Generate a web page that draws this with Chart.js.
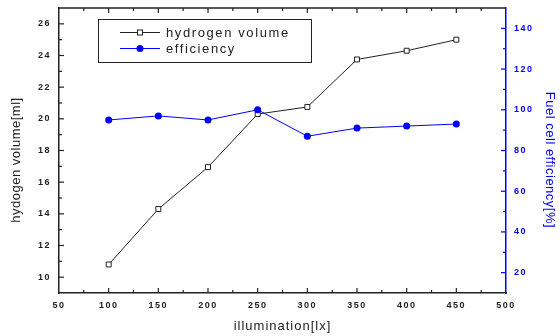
<!DOCTYPE html>
<html>
<head>
<meta charset="utf-8">
<script src="https://cdn.jsdelivr.net/npm/chart.js@4.4.1/dist/chart.umd.min.js"></script>
<style>
  html, body { margin: 0; padding: 0; background: #fff; }
  #wrap { width: 560px; height: 336px; position: relative; }
</style>
</head>
<body>
<div id="wrap"><canvas id="chart_hydrogenEfficiency"></canvas></div>
<script>
// data
var illumination = [100, 150, 200, 250, 300, 350, 400, 450];
var hydrogenVolume = [10.8, 14.3, 16.95, 20.3, 20.75, 23.75, 24.3, 25.0];
var efficiency = [95, 97, 95, 100, 87, 91, 92, 93];

var xTicks = [50, 100, 150, 200, 250, 300, 350, 400, 450, 500];
var xMinorTicks = [75, 125, 175, 225, 275, 325, 375, 425, 475];
var volumeTicks = [10, 12, 14, 16, 18, 20, 22, 24, 26];
var volumeMinorTicks = [11, 13, 15, 17, 19, 21, 23, 25];
var effTicks = [20, 40, 60, 80, 100, 120, 140];
var effMinorTicks = [30, 50, 70, 90, 110, 130];

var labelHydrogen = 'hydrogen volume';
var labelEfficiency = 'efficiency';
var titleX = 'illumination[lx]';
var titleY = 'hydogen volume[ml]';
var titleY2 = 'Fuel cell efficiency[%]';

var BLUE = '#0000ff';
var INK = '#222222';
var FONT = '"Liberation Sans", Arial, sans-serif';

function fixTicks(list) {
    return function(scale) {
        scale.ticks = list.map(function(v) { return { value: v }; });
    };
}

// fixed axis thickness, no extra overhang padding
function fitWidth(w) {
    return function(scale) {
        scale.width = w;
        scale.paddingTop = 0;
        scale.paddingBottom = 0;
    };
}

function drawSquare(ctx, x, y, s) {
    ctx.fillStyle = '#fff';
    ctx.strokeStyle = INK;
    ctx.lineWidth = 1;
    ctx.fillRect(x - s / 2, y - s / 2, s, s);
    ctx.strokeRect(x - s / 2, y - s / 2, s, s);
}

var framePlugin = {
    id: 'framePlugin',
    beforeDraw: function(chart) {
        chart.ctx.letterSpacing = '1.5px';
    },
    afterDraw: function(chart) {
        var ctx = chart.ctx;
        var a = chart.chartArea;
        var sx = chart.scales.x, sy = chart.scales.y, sy2 = chart.scales.y2;
        ctx.save();
        ctx.letterSpacing = '0px';

        // top frame line
        ctx.strokeStyle = INK;
        ctx.lineWidth = 1.5;
        ctx.beginPath();
        ctx.moveTo(a.left, a.top);
        ctx.lineTo(a.right, a.top);
        ctx.stroke();

        // inward ticks, bottom and top
        ctx.lineWidth = 1.2;
        function xTick(v, len) {
            var px = sx.getPixelForValue(v);
            ctx.beginPath();
            ctx.moveTo(px, a.bottom); ctx.lineTo(px, a.bottom - len);
            ctx.moveTo(px, a.top); ctx.lineTo(px, a.top + len);
            ctx.stroke();
        }
        xTicks.forEach(function(v) { if (v > 50 && v < 500) xTick(v, 5); });
        xMinorTicks.forEach(function(v) { xTick(v, 3); });

        // left ticks
        function yTick(v, len) {
            var py = sy.getPixelForValue(v);
            ctx.beginPath();
            ctx.moveTo(a.left, py); ctx.lineTo(a.left + len, py);
            ctx.stroke();
        }
        volumeTicks.forEach(function(v) { yTick(v, 5); });
        volumeMinorTicks.forEach(function(v) { yTick(v, 3); });

        // right ticks (blue)
        ctx.strokeStyle = BLUE;
        function y2Tick(v, len) {
            var py = sy2.getPixelForValue(v);
            ctx.beginPath();
            ctx.moveTo(a.right, py); ctx.lineTo(a.right - len, py);
            ctx.stroke();
        }
        effTicks.forEach(function(v) { y2Tick(v, 5); });
        effMinorTicks.forEach(function(v) { y2Tick(v, 3); });

        // axis titles
        ctx.textAlign = 'center';
        ctx.textBaseline = 'middle';
        ctx.font = '13px ' + FONT;
        ctx.fillStyle = INK;
        ctx.letterSpacing = '1px';
        ctx.fillText(titleX, (a.left + a.right) / 2, 326);

        ctx.letterSpacing = '0.5px';
        ctx.save();
        ctx.translate(16, 160);
        ctx.rotate(-Math.PI / 2);
        ctx.fillText(titleY, 0, 0);
        ctx.restore();

        ctx.save();
        ctx.fillStyle = BLUE;
        ctx.translate(550, 160);
        ctx.rotate(Math.PI / 2);
        ctx.fillText(titleY2, 0, 0);
        ctx.restore();

        // legend box
        ctx.strokeStyle = INK;
        ctx.lineWidth = 1;
        ctx.strokeRect(98.5, 19.5, 213, 43);

        ctx.lineWidth = 1;
        ctx.beginPath();
        ctx.moveTo(120, 32.5); ctx.lineTo(160, 32.5);
        ctx.stroke();
        drawSquare(ctx, 140, 32.5, 5);

        ctx.strokeStyle = BLUE;
        ctx.beginPath();
        ctx.moveTo(120, 48.5); ctx.lineTo(160, 48.5);
        ctx.stroke();
        ctx.fillStyle = BLUE;
        ctx.beginPath();
        ctx.arc(140, 48.5, 3.5, 0, Math.PI * 2);
        ctx.fill();

        ctx.textAlign = 'left';
        ctx.fillStyle = INK;
        ctx.letterSpacing = '1.6px';
        ctx.fillText(labelHydrogen, 166, 33);
        ctx.fillText(labelEfficiency, 166, 49);

        ctx.restore();
    }
};

var chart_hydrogenEfficiency = new Chart(document.getElementById('chart_hydrogenEfficiency'), {
    type: 'line',
    data: {
        datasets: [
            {
                label: labelEfficiency,
                yAxisID: 'y2',
                data: illumination.map(function(x, i) { return { x: x, y: efficiency[i] }; }),
                borderColor: BLUE,
                backgroundColor: BLUE,
                borderWidth: 1,
                pointStyle: 'circle',
                pointRadius: 3.5,
                pointBorderWidth: 0,
                pointBackgroundColor: BLUE,
                tension: 0
            },
            {
                label: labelHydrogen,
                yAxisID: 'y',
                data: illumination.map(function(x, i) { return { x: x, y: hydrogenVolume[i] }; }),
                borderColor: INK,
                backgroundColor: '#fff',
                borderWidth: 1,
                pointStyle: 'rect',
                pointRadius: 3.5,
                pointBorderWidth: 1,
                pointBorderColor: INK,
                pointBackgroundColor: '#fff',
                tension: 0
            }
        ]
    },
    options: {
        animation: false,
        responsive: true,
        maintainAspectRatio: false,
        layout: { padding: { top: 8, left: 0, right: 0, bottom: 0 } },
        plugins: {
            legend: { display: false },
            tooltip: { enabled: false }
        },
        scales: {
            x: {
                type: 'linear',
                min: 50,
                max: 500,
                afterBuildTicks: fixTicks(xTicks),
                afterFit: function(scale) { scale.height = 43; },
                grid: { display: false, drawTicks: false },
                border: { display: true, color: INK, width: 1.5 },
                ticks: {
                    padding: 7,
                    color: INK,
                    font: { family: FONT, size: 9, weight: 'bold' },
                    maxRotation: 0
                }
            },
            y: {
                type: 'linear',
                position: 'left',
                min: 9,
                max: 27,
                afterBuildTicks: fixTicks(volumeTicks),
                afterFit: fitWidth(59),
                grid: { display: false, drawTicks: false },
                border: { display: true, color: INK, width: 1.5 },
                ticks: {
                    padding: 8,
                    color: INK,
                    font: { family: FONT, size: 9, weight: 'bold' }
                }
            },
            y2: {
                type: 'linear',
                position: 'right',
                min: 10,
                max: 150,
                afterBuildTicks: fixTicks(effTicks),
                afterFit: fitWidth(54),
                grid: { display: false, drawTicks: false },
                border: { display: true, color: BLUE, width: 1.5 },
                ticks: {
                    padding: 8,
                    color: BLUE,
                    font: { family: FONT, size: 9, weight: 'bold' }
                }
            }
        }
    },
    plugins: [framePlugin]
});
</script>
</body>
</html>
